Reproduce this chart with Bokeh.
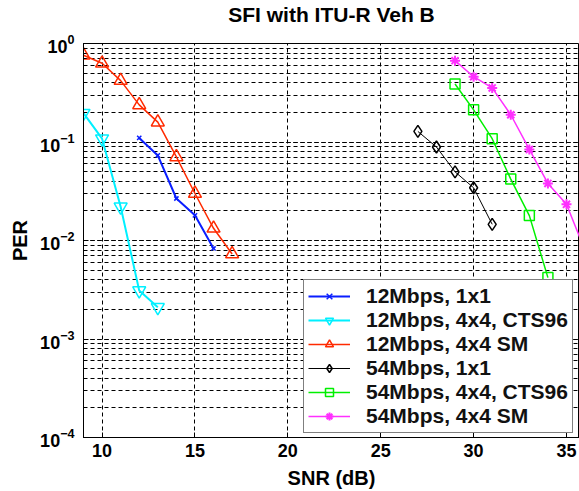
from bokeh.plotting import figure
from bokeh.models import Legend, LegendItem, LogTicker, SingleIntervalTicker, Title
from bokeh.embed import file_html
from bokeh.resources import INLINE

# Data
snr_12_1x1 = [12, 13, 14, 15, 16]
per_12_1x1 = [0.11, 0.073, 0.0267, 0.018, 0.0083]

snr_12_cts = [9, 10, 11, 12, 13]
per_12_cts = [0.196, 0.108, 0.022, 0.0031, 0.0021]

snr_12_sm = [9, 10, 11, 12, 13, 14, 15, 16, 17]
per_12_sm = [0.76, 0.63, 0.42, 0.238, 0.159, 0.0705, 0.030, 0.0133, 0.0073]

snr_54_1x1 = [27, 28, 29, 30, 31]
per_54_1x1 = [0.128, 0.089, 0.0498, 0.0343, 0.0146]

snr_54_cts = [29, 30, 31, 32, 33, 34]
per_54_cts = [0.388, 0.212, 0.108, 0.042, 0.0179, 0.0042]

snr_54_sm = [29, 30, 31, 32, 33, 34, 35, 36]
per_54_sm = [0.67, 0.46, 0.354, 0.189, 0.084, 0.038, 0.0233, 0.0079]

labels = ["12Mbps, 1x1", "12Mbps, 4x4, CTS96", "12Mbps, 4x4 SM",
          "54Mbps, 1x1", "54Mbps, 4x4, CTS96", "54Mbps, 4x4 SM"]

title_text = "SFI with ITU-R Veh B"
x_label_text = "SNR (dB)"
y_label_text = "PER"

FONT = "Liberation Sans"

p = figure(width=579, height=491, y_axis_type="log",
           x_range=(9, 35.7), y_range=(1e-4, 1),
           output_backend="svg", toolbar_location=None,
           min_border_left=83, min_border_top=41, min_border_bottom=54,
           min_border_right=0, title=None)

# spacer between the frame and the title (innermost "above" panel)
spacer = Title(text=" ", text_font_size="2px", standoff=14, align="center")
p.add_layout(spacer, "above")
main_title = Title(text=title_text, text_font=FONT, text_font_size="21px",
                   text_font_style="bold", text_color="black",
                   align="center", standoff=0, offset=0)
p.add_layout(main_title, "above")

p.outline_line_color = "black"
p.outline_line_width = 1
p.background_fill_color = "white"
p.border_fill_color = "white"

p.xaxis.ticker = SingleIntervalTicker(interval=5, num_minor_ticks=0)
p.yaxis.ticker = LogTicker(num_minor_ticks=10, desired_num_ticks=5)

for ax in (p.xaxis, p.yaxis):
    ax.major_label_text_font = FONT
    ax.major_label_text_font_style = "bold"
    ax.major_label_text_font_size = "18px"
    ax.major_label_text_color = "black"
    ax.axis_label_text_font = FONT
    ax.axis_label_text_font_style = "bold"
    ax.axis_label_text_font_size = "20px"
    ax.axis_label_text_color = "black"
    ax.axis_line_color = "black"
    ax.major_tick_in = 5
    ax.major_tick_out = 0
    ax.minor_tick_in = 3
    ax.minor_tick_out = 0
    ax.major_tick_line_color = "black"
    ax.minor_tick_line_color = "black"

p.xaxis.axis_label = x_label_text
p.xaxis.major_label_standoff = 6
p.xaxis.axis_label_standoff = 7
p.yaxis.axis_label = y_label_text
p.yaxis.major_label_standoff = 9
p.yaxis.axis_label_standoff = 6

p.xgrid.grid_line_color = "black"
p.xgrid.grid_line_dash = "4 3"
p.xgrid.grid_line_width = 1
p.ygrid.grid_line_color = "black"
p.ygrid.grid_line_dash = "4 3"
p.ygrid.minor_grid_line_color = "black"
p.ygrid.minor_grid_line_dash = "4 3"

items = []

def series(x, y, color, lw, marker, size, mlw, label):
    r1 = p.line(x, y, line_color=color, line_width=lw)
    r2 = p.scatter(x, y, marker=marker, size=size, line_color=color,
                   line_width=mlw, fill_color=None)
    items.append(LegendItem(label=label, renderers=[r1, r2]))

series(snr_12_1x1, per_12_1x1, "#0a1eff", 2, "x", 6, 1.5, labels[0])
series(snr_12_cts, per_12_cts, "#00f0ff", 2, "inverted_triangle", 13, 1.5, labels[1])
series(snr_12_sm, per_12_sm, "#ff2a00", 1.5, "triangle", 13, 1.5, labels[2])
series(snr_54_1x1, per_54_1x1, "#000000", 1, "diamond", 12, 1.5, labels[3])
series(snr_54_cts, per_54_cts, "#00f000", 1.5, "square", 10, 1.5, labels[4])
series(snr_54_sm, per_54_sm, "#ff30ff", 1.5, "asterisk", 10, 2, labels[5])

legend = Legend(items=items, location=(220, 4))
legend.label_text_font = FONT
legend.label_text_font_style = "bold"
legend.label_text_font_size = "21px"
legend.label_text_color = "#111111"
legend.glyph_width = 42
legend.glyph_height = 20
legend.label_height = 20
legend.spacing = 0
legend.padding = 4
legend.margin = 0
legend.label_standoff = 16
legend.border_line_color = "black"
legend.border_line_width = 1
legend.background_fill_alpha = 1
p.add_layout(legend, "center")

open("out.html", "w").write(file_html(p, INLINE))
